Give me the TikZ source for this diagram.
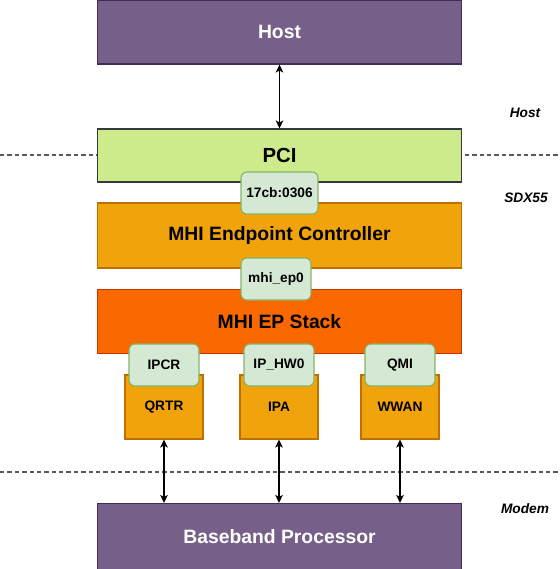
\documentclass[tikz,border=0pt]{standalone}
\usepackage{fontspec}
\setmainfont{Liberation Sans}
\usepackage{tikz}
\usetikzlibrary{positioning}
\usetikzlibrary{arrows.meta}
\definecolor{hostfill}{HTML}{76608A}
\definecolor{hostline}{HTML}{432D57}
\definecolor{pcifill}{HTML}{CDEB8B}
\definecolor{pciline}{HTML}{36393D}
\definecolor{ctrlfill}{HTML}{F0A30A}
\definecolor{ctrlline}{HTML}{BD7000}
\definecolor{stackfill}{HTML}{FA6800}
\definecolor{stackline}{HTML}{C73500}
\definecolor{tagfill}{HTML}{D5E8D4}
\definecolor{tagline}{HTML}{82B366}
\tikzset{
  layer/.style={draw, line width=0.6pt, inner sep=0pt, minimum width=7.3cm, font=\fontsize{11}{13}\selectfont\bfseries},
  block/.style={draw=ctrlline, fill=ctrlfill, line width=0.6pt, inner sep=0pt, minimum width=1.56cm, minimum height=1.28cm, font=\fontsize{7.8}{9}\selectfont\bfseries},
  tag/.style={draw=tagline, fill=tagfill, line width=0.6pt, rounded corners=1.2mm, inner sep=0pt, minimum width=1.4cm, minimum height=0.84cm, font=\fontsize{7.8}{9}\selectfont\bfseries},
  side/.style={font=\fontsize{7.8}{9}\selectfont\bfseries\itshape},
  sep/.style={dashed, draw=black!65, line width=0.6pt, dash pattern=on 2.5pt off 1.7pt},
  link/.style={<->, line width=0.7pt, >={Stealth[length=1.6mm,width=1.5mm,inset=0.4mm]}}
}
\begin{document}
\begin{tikzpicture}[x=0.02cm, y=-0.02cm]
\useasboundingbox (0,0) rectangle (560,569);
% separators
\coordinate (hl) at (0,155);
\coordinate (hr) at (560,155);
\coordinate (ml) at (0,472);
\coordinate (mr) at (560,472);
\draw[sep] (hl) -- (hr);
\draw[sep] (ml) -- (mr);
% layers
\node[layer, fill=hostfill, draw=hostline, text=white, minimum height=1.28cm] (host) at (279.5,32) {Host};
\node[layer, fill=pcifill, draw=pciline, minimum height=1.06cm, font=\fontsize{11.6}{13}\selectfont\bfseries] (pci) at (279.5,155.5) {PCI};
\node[layer, fill=ctrlfill, draw=ctrlline, minimum height=1.3cm] (ctrl) at (279.5,235.5) {MHI Endpoint Controller};
\node[layer, fill=stackfill, draw=stackline, minimum height=1.28cm] (stack) at (279.5,321.5) {MHI EP Stack};
\node[layer, fill=hostfill, draw=hostline, text=white, minimum height=1.32cm] (base) at (279.5,536.5) {Baseband Processor};
% ids
\node[tag, minimum width=1.54cm] (pciid) at (279.5,193) {17cb:0306};
\node[tag] (epid) at (276,279) {mhi\_ep0};
% clients
\node[block] (qrtr) at (164,407) {QRTR};
\node[block] (ipa) at (279,407) {IPA};
\node[block] (wwan) at (400,407) {WWAN};
\node[tag] (ipcr) at (164,365) {IPCR};
\node[tag] (iphw) at (279,365) {IP\_HW0};
\node[tag] (qmi) at (400,365) {QMI};
% links
\draw[link] (host.south) -- (pci.north);
\draw[link] (qrtr.south) -- (qrtr.south |- base.north);
\draw[link] (ipa.south) -- (ipa.south |- base.north);
\draw[link] (wwan.south) -- (wwan.south |- base.north);
% domains
\node[side] (lhost) at (525,113) {Host};
\node[side] (lsdx) at (526,198) {SDX55};
\node[side] (lmodem) at (525,509) {Modem};
\end{tikzpicture}
\end{document}
